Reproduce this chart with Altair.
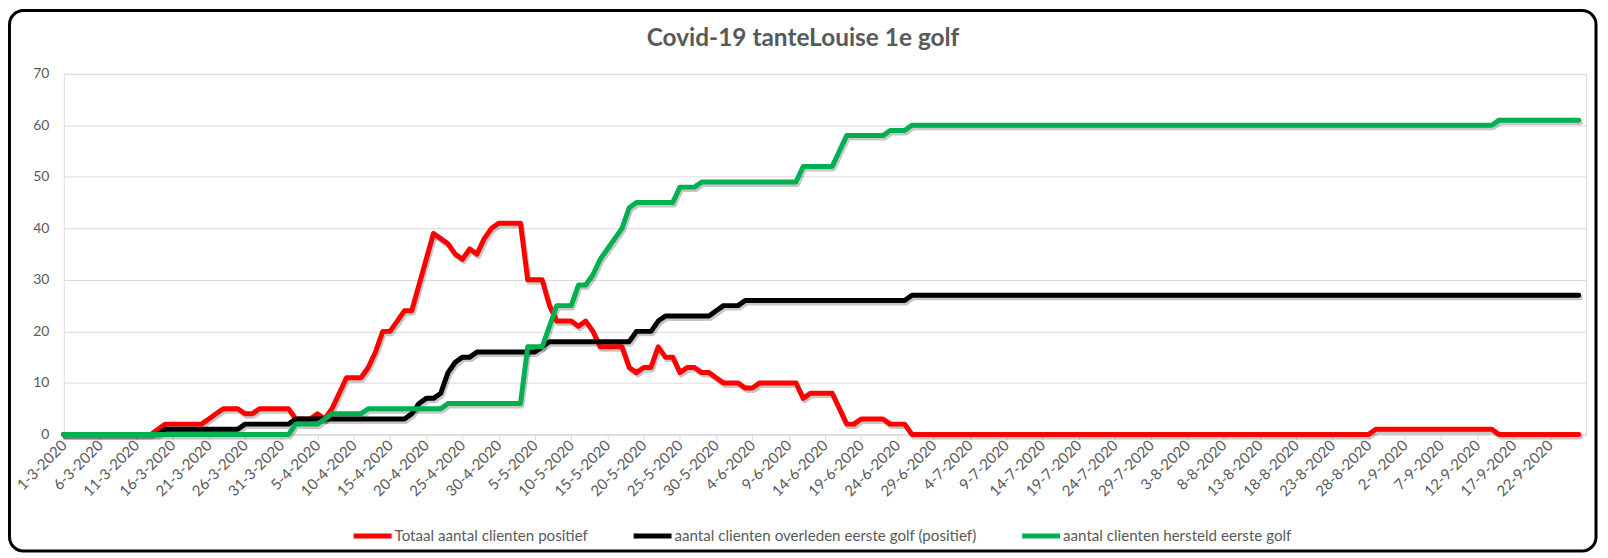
import altair as alt
import pandas as pd

start_date = "2020-03-01"
chart_title = "Covid-19 tanteLouise  1e golf"

series_names = [
    "Totaal aantal clienten positief",
    "aantal clienten overleden eerste golf (positief)",
    "aantal clienten hersteld eerste golf",
]
series_colors = ["#FF0000", "#000000", "#00B050"]

# daily values, 1-3-2020 .. 26-9-2020 (10 values per row)
positief = [
    0, 0, 0, 0, 0, 0, 0, 0, 0, 0,
    0, 0, 0, 1, 2, 2, 2, 2, 2, 2,
    3, 4, 5, 5, 5, 4, 4, 5, 5, 5,
    5, 5, 3, 3, 3, 4, 3, 5, 8, 11,
    11, 11, 13, 16, 20, 20, 22, 24, 24, 29,
    34, 39, 38, 37, 35, 34, 36, 35, 38, 40,
    41, 41, 41, 41, 30, 30, 30, 25, 22, 22,
    22, 21, 22, 20, 17, 17, 17, 17, 13, 12,
    13, 13, 17, 15, 15, 12, 13, 13, 12, 12,
    11, 10, 10, 10, 9, 9, 10, 10, 10, 10,
    10, 10, 7, 8, 8, 8, 8, 5, 2, 2,
    3, 3, 3, 3, 2, 2, 2, 0, 0, 0,
    0, 0, 0, 0, 0, 0, 0, 0, 0, 0,
    0, 0, 0, 0, 0, 0, 0, 0, 0, 0,
    0, 0, 0, 0, 0, 0, 0, 0, 0, 0,
    0, 0, 0, 0, 0, 0, 0, 0, 0, 0,
    0, 0, 0, 0, 0, 0, 0, 0, 0, 0,
    0, 0, 0, 0, 0, 0, 0, 0, 0, 0,
    0, 1, 1, 1, 1, 1, 1, 1, 1, 1,
    1, 1, 1, 1, 1, 1, 1, 1, 0, 0,
    0, 0, 0, 0, 0, 0, 0, 0, 0, 0,
]
overleden = [
    0, 0, 0, 0, 0, 0, 0, 0, 0, 0,
    0, 0, 0, 0, 1, 1, 1, 1, 1, 1,
    1, 1, 1, 1, 1, 2, 2, 2, 2, 2,
    2, 2, 3, 3, 3, 3, 3, 3, 3, 3,
    3, 3, 3, 3, 3, 3, 3, 3, 4, 6,
    7, 7, 8, 12, 14, 15, 15, 16, 16, 16,
    16, 16, 16, 16, 16, 16, 17, 18, 18, 18,
    18, 18, 18, 18, 18, 18, 18, 18, 18, 20,
    20, 20, 22, 23, 23, 23, 23, 23, 23, 23,
    24, 25, 25, 25, 26, 26, 26, 26, 26, 26,
    26, 26, 26, 26, 26, 26, 26, 26, 26, 26,
    26, 26, 26, 26, 26, 26, 26, 27, 27, 27,
    27, 27, 27, 27, 27, 27, 27, 27, 27, 27,
    27, 27, 27, 27, 27, 27, 27, 27, 27, 27,
    27, 27, 27, 27, 27, 27, 27, 27, 27, 27,
    27, 27, 27, 27, 27, 27, 27, 27, 27, 27,
    27, 27, 27, 27, 27, 27, 27, 27, 27, 27,
    27, 27, 27, 27, 27, 27, 27, 27, 27, 27,
    27, 27, 27, 27, 27, 27, 27, 27, 27, 27,
    27, 27, 27, 27, 27, 27, 27, 27, 27, 27,
    27, 27, 27, 27, 27, 27, 27, 27, 27, 27,
]
hersteld = [
    0, 0, 0, 0, 0, 0, 0, 0, 0, 0,
    0, 0, 0, 0, 0, 0, 0, 0, 0, 0,
    0, 0, 0, 0, 0, 0, 0, 0, 0, 0,
    0, 0, 2, 2, 2, 2, 3, 4, 4, 4,
    4, 4, 5, 5, 5, 5, 5, 5, 5, 5,
    5, 5, 5, 6, 6, 6, 6, 6, 6, 6,
    6, 6, 6, 6, 17, 17, 17, 21, 25, 25,
    25, 29, 29, 31, 34, 36, 38, 40, 44, 45,
    45, 45, 45, 45, 45, 48, 48, 48, 49, 49,
    49, 49, 49, 49, 49, 49, 49, 49, 49, 49,
    49, 49, 52, 52, 52, 52, 52, 55, 58, 58,
    58, 58, 58, 58, 59, 59, 59, 60, 60, 60,
    60, 60, 60, 60, 60, 60, 60, 60, 60, 60,
    60, 60, 60, 60, 60, 60, 60, 60, 60, 60,
    60, 60, 60, 60, 60, 60, 60, 60, 60, 60,
    60, 60, 60, 60, 60, 60, 60, 60, 60, 60,
    60, 60, 60, 60, 60, 60, 60, 60, 60, 60,
    60, 60, 60, 60, 60, 60, 60, 60, 60, 60,
    60, 60, 60, 60, 60, 60, 60, 60, 60, 60,
    60, 60, 60, 60, 60, 60, 60, 60, 61, 61,
    61, 61, 61, 61, 61, 61, 61, 61, 61, 61,
]
y_ticks = [0, 10, 20, 30, 40, 50, 60, 70]

dates = pd.date_range(start_date, periods=len(positief), freq="D")
rows = []
for k, (name, vals) in enumerate(zip(series_names, [positief, overleden, hersteld])):
    for d, v in zip(dates, vals):
        rows.append({"datum": d.strftime("%Y-%m-%dT00:00:00"), "reeks": name,
                     "volgorde": k, "waarde": v})
df = pd.DataFrame(rows)

def dt(ts):
    return alt.DateTime(year=ts.year, month=ts.month, date=ts.day)

tick_dates = [dt(d) for d in dates[::5]]
x_domain = [dt(dates[0]), dt(dates[-1] + pd.Timedelta(days=1))]

FONT = "Lato"
GREY = "#595959"
W, H = 1528, 362

x_enc = alt.X(
    "datum:T",
    scale=alt.Scale(domain=x_domain),
    axis=alt.Axis(
        values=tick_dates, format="%-d-%-m-%Y", labelAngle=-45,
        labelAlign="right", labelBaseline="middle", labelPadding=3,
        labelOverlap=False, labelFlush=False, labelFontSize=15,
        labelColor=GREY, labelFont=FONT, domainColor="#d9d9d9",
        tickColor="#d9d9d9", tickSize=5, grid=False, title=None,
    ),
)
y_enc = alt.Y(
    "waarde:Q",
    scale=alt.Scale(domain=[0, 70], nice=False),
    axis=alt.Axis(
        values=y_ticks, labelFontSize=14, labelColor=GREY, labelFont=FONT,
        labelPadding=15, domain=False, ticks=False, grid=True,
        gridColor="#d9d9d9", title=None,
    ),
)

base = alt.Chart(df)

shadow = base.mark_line(
    strokeWidth=5, color="#000000", opacity=0.22, xOffset=1.5, yOffset=2.5,
    strokeJoin="round", strokeCap="round",
).encode(x=x_enc, y=y_enc, detail="reeks:N", order="volgorde:Q")

lines = base.mark_line(strokeWidth=5, strokeJoin="round", strokeCap="round").encode(
    x=x_enc,
    y=y_enc,
    color=alt.Color(
        "reeks:N",
        scale=alt.Scale(domain=series_names, range=series_colors),
        legend=alt.Legend(
            title=None, orient="none", legendX=288, legendY=442,
            direction="horizontal", symbolType="stroke", symbolStrokeWidth=5,
            symbolSize=1450, labelFontSize=15.2, labelColor=GREY, labelFont=FONT,
            labelLimit=600, columnPadding=34, symbolOffset=0, labelOffset=0,
        ),
    ),
    order="volgorde:Q",
)

one = pd.DataFrame({"titel": [chart_title]})

title_mark = alt.Chart(one).mark_text(
    fontSize=24.5, font=FONT, fontWeight="bold", color=GREY,
    align="center", baseline="middle",
).encode(text="titel:N", x=alt.value(742), y=alt.value(-35))

border = alt.Chart(one).mark_rect(
    fillOpacity=0, stroke="#000000", strokeWidth=3, cornerRadius=14,
).encode(x=alt.value(-54.5), x2=alt.value(1538), y=alt.value(-63.5), y2=alt.value(479))

chart = alt.layer(border, title_mark, shadow, lines).properties(
    width=W,
    height=H,
    padding={"left": 56, "top": 65, "right": 14, "bottom": 119},
    autosize=alt.AutoSizeParams(type="none"),
).configure_view(stroke=None).configure(background="white")

chart.save("out.html", embed_options={"renderer": "svg", "actions": False})
